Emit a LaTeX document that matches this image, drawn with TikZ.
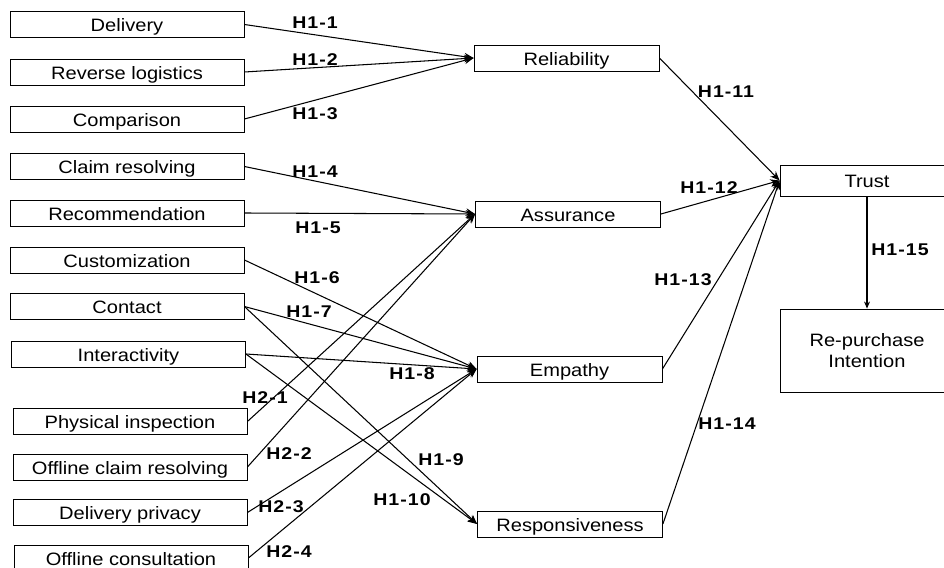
\documentclass[tikz,border=0pt]{standalone}
\usepackage{fontspec}
\setmainfont{Liberation Sans}
\newfontfamily\boxfont[FakeStretch=1.12]{Liberation Sans}
\newfontfamily\lblfont[FakeStretch=1.15,LetterSpace=6]{Liberation Sans}
\usetikzlibrary{arrows.meta}
\begin{document}
\begin{tikzpicture}[x=0.03cm,y=-0.03cm,
  box/.style={draw, line width=0.7pt, inner sep=0pt, font=\boxfont\fontsize{15.3}{18}\selectfont},
  lbox/.style={box, minimum width=7.02cm, minimum height=0.78cm, text height=12pt, text depth=0pt},
  mbox/.style={box, minimum width=5.55cm, minimum height=0.78cm, text height=12pt, text depth=0pt},
  lbl/.style={inner sep=0pt, font=\lblfont\bfseries\fontsize{14.5}{16}\selectfont},
  arr/.style={line width=0.9pt, -{Stealth[length=8pt,width=6.5pt]}}]
\clip (0,0) rectangle (944,568);
% left boxes
\node[lbox] (del) at (127,24.5) {Delivery};
\node[lbox] (rev) at (127,72) {Reverse logistics};
\node[lbox] (com) at (127,119) {Comparison};
\node[lbox] (cla) at (127,166.5) {Claim resolving};
\node[lbox] (rec) at (127,213) {Recommendation};
\node[lbox] (cus) at (127,260) {Customization};
\node[lbox] (con) at (127,306.5) {Contact};
\node[lbox] (int) at (128.5,354) {Interactivity};
\node[lbox] (phy) at (130,421.5) {Physical inspection};
\node[lbox] (ocr) at (130,467) {Offline claim resolving};
\node[lbox] (dpr) at (130,512.5) {Delivery privacy};
\node[lbox] (ocs) at (131,558) {Offline consultation};
% middle boxes
\node[mbox] (rel) at (566.5,58) {Reliability};
\node[mbox] (ass) at (568,214) {Assurance};
\node[mbox] (emp) at (569.5,369) {Empathy};
\node[mbox] (res) at (570,524) {Responsiveness};
% right boxes
\node[box, minimum width=5.22cm, minimum height=0.93cm, text height=12pt, text depth=0pt] (tru) at (867,180.5) {Trust};
\node[box, minimum width=5.22cm, minimum height=2.49cm, align=center] (rpi) at (867,350.5) {Re-purchase\\Intention};
% connectors
\draw[arr] (del.east) -- (rel.west);
\draw[arr] (rev.east) -- (rel.west);
\draw[arr] (com.east) -- (rel.west);
\draw[arr] (cla.east) -- (ass.west);
\draw[arr] (rec.east) -- (ass.west);
\draw[arr] (cus.east) -- (emp.west);
\draw[arr] (con.east) -- (emp.west);
\draw[arr] (con.east) -- (res.west);
\draw[arr] (int.east) -- (emp.west);
\draw[arr] (int.east) -- (res.west);
\draw[arr] (phy.east) -- (ass.west);
\draw[arr] (ocr.east) -- (ass.west);
\draw[arr] (dpr.east) -- (emp.west);
\draw[arr] (ocs.east) -- (emp.west);
\draw[arr] (rel.east) -- (tru.west);
\draw[arr] (ass.east) -- (tru.west);
\draw[arr] (emp.east) -- (tru.west);
\draw[arr] (res.east) -- (tru.west);
\draw[line width=0.9pt, -{Stealth[length=6pt,width=5pt]}] (tru.south) -- (rpi.north);
% labels
\node[lbl] (l11) at (315,23) {H1-1};
\node[lbl] (l12) at (315,60) {H1-2};
\node[lbl] (l13) at (315,114) {H1-3};
\node[lbl] (l14) at (315,172) {H1-4};
\node[lbl] (l15) at (318,228) {H1-5};
\node[lbl] (l16) at (317,278) {H1-6};
\node[lbl] (l17) at (309,312) {H1-7};
\node[lbl] (l18) at (412,374) {H1-8};
\node[lbl] (l19) at (441,460) {H1-9};
\node[lbl] (l110) at (402,500) {H1-10};
\node[lbl] (l111) at (726,92) {H1-11};
\node[lbl] (l112) at (709,188) {H1-12};
\node[lbl] (l113) at (683,280) {H1-13};
\node[lbl] (l114) at (727,424) {H1-14};
\node[lbl] (l115) at (900,250) {H1-15};
\node[lbl] (l21) at (265,398) {H2-1};
\node[lbl] (l22) at (289,454) {H2-2};
\node[lbl] (l23) at (281,507) {H2-3};
\node[lbl] (l24) at (289,552) {H2-4};
\end{tikzpicture}
\end{document}
